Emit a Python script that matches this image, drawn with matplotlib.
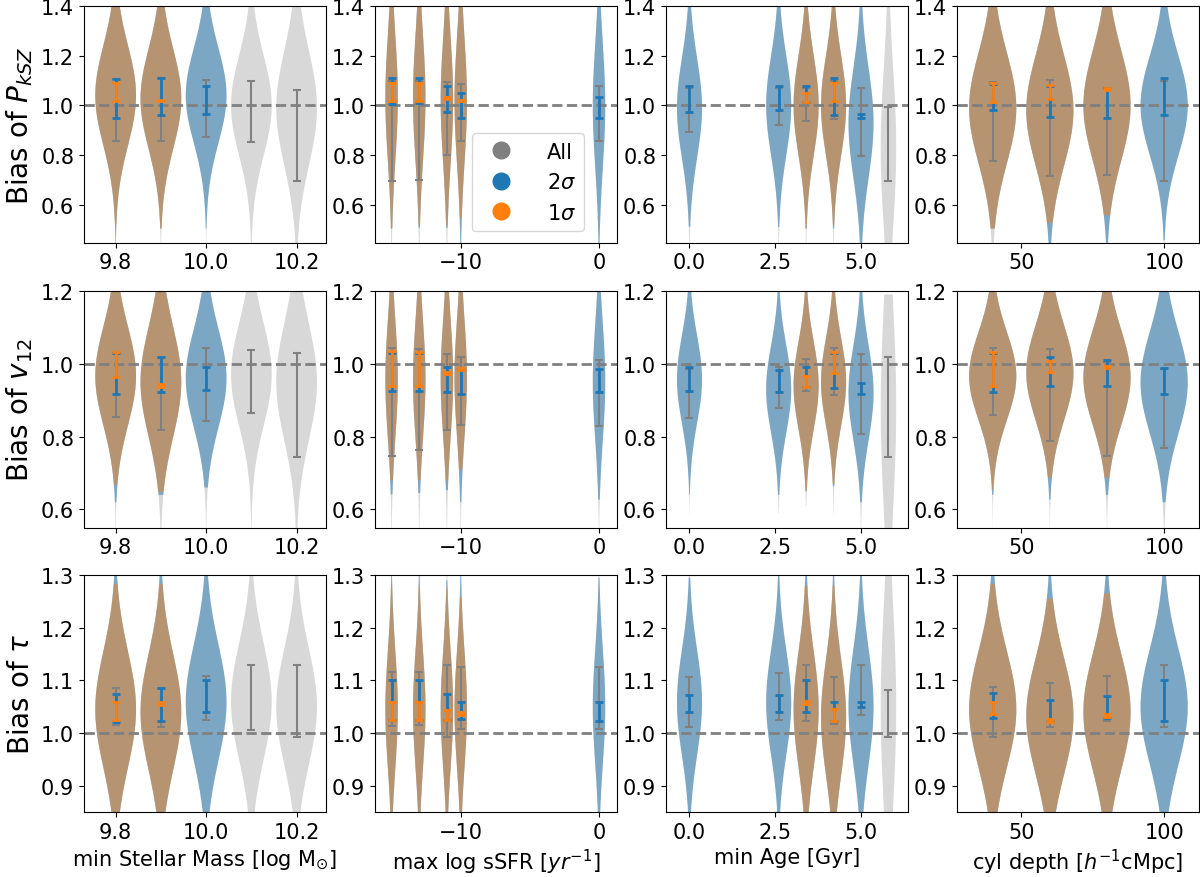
import numpy as np
import matplotlib
matplotlib.use("Agg")
import matplotlib.pyplot as plt
from matplotlib.lines import Line2D

# ---------------- data ----------------
X_MASS = [9.8, 9.9, 10.0, 10.1, 10.2]
X_SSFR = [-15, -13, -11, -10, 0]
X_AGE = [0.0, 2.6, 3.4, 4.2, 5.0, 5.8]
X_DEPTH = [40, 60, 80, 100]
COL_X = [X_MASS, X_SSFR, X_AGE, X_DEPTH]
XTICKS = [[9.8, 10.0, 10.2], [-10, 0], [0.0, 2.5, 5.0], [50, 100]]
XLABELS = ["min Stellar Mass [log M$_{\\odot}$]", "max log sSFR [$yr^{-1}$]",
           "min Age [Gyr]", "cyl depth [$h^{-1}$cMpc]"]
YLABELS = ["Bias of $P_{kSZ}$", "Bias of $v_{12}$", "Bias of $\\tau$"]
YTICKS = [[0.6, 0.8, 1.0, 1.2, 1.4], [0.6, 0.8, 1.0, 1.2], [0.9, 1.0, 1.1, 1.2, 1.3]]
LABELS = ["All", "2$\\sigma$", "1$\\sigma$"]

# which positions have the 2-sigma and 1-sigma subsets
IDX_2S = [[0, 1, 2], [0, 1, 2, 3, 4], [0, 1, 2, 3, 4], [0, 1, 2, 3]]
IDX_1S = [[0, 1], [0, 1, 2, 3], [2, 3], [0, 1, 2]]

# ---- P_kSZ ----
PKSZ_ERR_ALL = [[(0.858, 1.105), (0.858, 1.11), (0.873, 1.104), (0.853, 1.099), (0.699, 1.064)],
                [(0.699, 1.10), (0.700, 1.10), (0.803, 1.093), (0.856, 1.087), (0.858, 1.079)],
                [(0.893, 1.07), (0.923, 1.07), (0.936, 1.07), (0.947, 1.10), (0.797, 1.072), (0.699, 0.993)],
                [(0.777, 1.093), (0.717, 1.104), (0.720, 1.07), (0.699, 1.10)]]
PKSZ_ERR_2S = [[(0.95, 1.107), (0.961, 1.112), (0.965, 1.08)],
               [(1.005, 1.109), (1.008, 1.112), (0.975, 1.079), (0.95, 1.051), (0.951, 1.036)],
               [(0.975, 1.08), (0.981, 1.077), (1.012, 1.08), (0.961, 1.112), (0.95, 0.967)],
               [(0.98, 1.085), (0.955, 1.08), (0.948, 1.07), (0.963, 1.112)]]
PKSZ_ERR_1S = [[(1.019, 1.09), (1.016, 1.022)],
               [(1.017, 1.089), (1.019, 1.092), (1.027, 1.033), (1.017, 1.023)],
               [(1.012, 1.052), (1.019, 1.089)],
               [(1.015, 1.089), (1.025, 1.082), (1.064, 1.07)]]
PKSZ_MODE = [[1.04, 1.027, 1.04, 1.0, 0.99], [1.03, 1.03, 1.02, 1.02, 1.0],
             [0.99, 1.0, 1.0, 1.0, 0.93, 0.83], [0.99, 0.98, 1.0, 1.0]]
PKSZ_SPREAD = [[0.2, 0.2, 0.19, 0.2, 0.23], [0.25, 0.25, 0.25, 0.25, 0.25],
               [0.2, 0.2, 0.2, 0.2, 0.22, 0.32], [0.22, 0.22, 0.22, 0.2]]
PKSZ_END_ALL = [[(0.40, 1.6)] * 5, [(0.40, 1.6)] * 5, [(0.40, 1.6)] * 6, [(0.40, 1.6)] * 4]
PKSZ_END_2S = [[(0.40, 1.6), (0.507, 1.6), (0.507, 1.6)],
               [(0.507, 1.6), (0.51, 1.6), (0.51, 1.6), (0.40, 1.6), (0.40, 1.6)],
               [(0.514, 1.6), (0.513, 1.6), (0.507, 1.6), (0.507, 1.6), (0.40, 1.6)],
               [(0.507, 1.6), (0.40, 1.6), (0.40, 1.6), (0.46, 1.6)]]
PKSZ_END_1S = [[(0.526, 1.6), (0.507, 1.6)],
               [(0.507, 1.6), (0.52, 1.6), (0.52, 1.6), (0.547, 1.6)],
               [(0.507, 1.6), (0.52, 1.6)],
               [(0.507, 1.6), (0.53, 1.6), (0.56, 1.6)]]

# ---- v12 ----
V12_ERR_ALL = [[(0.853, 1.03), (0.818, 1.015), (0.842, 1.042), (0.864, 1.037), (0.745, 1.03)],
               [(0.746, 1.043), (0.762, 1.04), (0.818, 1.026), (0.831, 1.018), (0.829, 1.01)],
               [(0.852, 0.985), (0.879, 0.99), (0.924, 1.014), (0.913, 1.042), (0.808, 1.026), (0.745, 1.018)],
               [(0.858, 1.042), (0.788, 1.039), (0.746, 1.005), (0.768, 0.985)]]
V12_ERR_2S = [[(0.917, 1.03), (0.922, 1.018), (0.929, 0.991)],
              [(0.924, 1.03), (0.924, 1.03), (0.922, 0.991), (0.917, 0.986), (0.921, 0.985)],
              [(0.924, 0.991), (0.921, 0.983), (0.937, 0.991), (0.932, 1.03), (0.917, 0.946)],
              [(0.921, 1.03), (0.94, 1.017), (0.94, 1.009), (0.917, 0.989)]]
V12_ERR_1S = [[(0.963, 1.033), (0.937, 0.943)],
              [(0.94, 1.034), (0.94, 1.033), (0.972, 0.978), (0.983, 0.989)],
              [(0.937, 0.966), (0.974, 1.033)],
              [(0.94, 1.033), (0.976, 1.006), (0.987, 0.993)]]
V12_MODE = [[0.966, 0.95, 0.96, 0.97, 0.95], [0.957, 0.957, 0.96, 0.96, 0.95],
            [0.957, 0.93, 0.94, 0.95, 0.92, 0.88], [0.966, 0.975, 0.962, 0.948]]
V12_SPREAD = [[0.135, 0.15, 0.135, 0.14, 0.16], [0.16, 0.16, 0.16, 0.16, 0.16],
              [0.12, 0.12, 0.12, 0.12, 0.13, 0.28], [0.12, 0.13, 0.13, 0.14]]
V12_END_ALL = [[(0.50, 1.3)] * 5, [(0.50, 1.3)] * 5,
               [(0.586, 1.3), (0.59, 1.3), (0.61, 1.3), (0.585, 1.3), (0.50, 1.3), (0.50, 1.19)],
               [(0.50, 1.3)] * 4]
V12_END_2S = [[(0.62, 1.3), (0.64, 1.3), (0.66, 1.3)],
              [(0.641, 1.3), (0.645, 1.3), (0.653, 1.3), (0.62, 1.3), (0.627, 1.3)],
              [(0.64, 1.3), (0.64, 1.3), (0.65, 1.3), (0.664, 1.3), (0.62, 1.3)],
              [(0.64, 1.3), (0.627, 1.3), (0.64, 1.3), (0.62, 1.3)]]
V12_END_1S = [[(0.668, 1.3), (0.648, 1.3)],
              [(0.68, 1.3), (0.68, 1.3), (0.68, 1.3), (0.71, 1.3)],
              [(0.65, 1.3), (0.67, 1.3)],
              [(0.655, 1.3), (0.687, 1.3), (0.687, 1.3)]]

# ---- tau ----
TAU_ERR_ALL = [[(1.016, 1.086), (1.012, 1.086), (1.024, 1.109), (1.006, 1.129), (0.992, 1.13)],
               [(1.013, 1.116), (1.015, 1.116), (0.992, 1.129), (1.007, 1.126), (1.007, 1.126)],
               [(1.011, 1.107), (1.025, 1.113), (1.022, 1.129), (1.017, 1.106), (1.034, 1.13), (0.992, 1.082)],
               [(0.992, 1.088), (1.011, 1.095), (1.022, 1.109), (1.011, 1.13)]]
TAU_ERR_2S = [[(1.02, 1.075), (1.023, 1.086), (1.039, 1.10)],
              [(1.025, 1.10), (1.025, 1.10), (1.025, 1.074), (1.026, 1.058), (1.022, 1.058)],
              [(1.039, 1.072), (1.039, 1.072), (1.039, 1.101), (1.022, 1.058), (1.05, 1.058)],
              [(1.029, 1.075), (1.023, 1.063), (1.029, 1.07), (1.023, 1.101)]]
TAU_ERR_1S = [[(1.024, 1.059), (1.054, 1.059)],
              [(1.025, 1.059), (1.025, 1.058), (1.025, 1.044), (1.034, 1.039)],
              [(1.055, 1.06), (1.023, 1.045)],
              [(1.037, 1.059), (1.021, 1.026), (1.031, 1.036)]]
TAU_MODE = [[1.045, 1.04, 1.058, 1.06, 1.05], [1.045, 1.045, 1.045, 1.045, 1.05],
            [1.058, 1.058, 1.045, 1.03, 1.05, 1.05], [1.045, 1.032, 1.04, 1.05]]
TAU_SPREAD = [[0.11] * 5, [0.11] * 5, [0.1, 0.1, 0.11, 0.11, 0.11, 0.19], [0.11] * 4]
TAU_END_ALL = [[(0.75, 1.4)] * 5, [(0.75, 1.4)] * 5, [(0.75, 1.4)] * 6, [(0.75, 1.4)] * 4]
TAU_END_2S = [[(0.75, 1.4)] * 3,
              [(0.75, 1.4), (0.75, 1.4), (0.75, 1.29), (0.75, 1.4), (0.75, 1.295)],
              [(0.75, 1.295), (0.75, 1.4), (0.75, 1.4), (0.75, 1.4), (0.75, 1.3)],
              [(0.75, 1.4)] * 4]
TAU_END_1S = [[(0.75, 1.283), (0.75, 1.283)],
              [(0.75, 1.28), (0.75, 1.28), (0.75, 1.274), (0.75, 1.258)],
              [(0.75, 1.28), (0.75, 1.28)],
              [(0.75, 1.283), (0.75, 1.255), (0.75, 1.265)]]

ROWS = [
    (PKSZ_ERR_ALL, PKSZ_ERR_2S, PKSZ_ERR_1S, PKSZ_MODE, PKSZ_SPREAD, PKSZ_END_ALL, PKSZ_END_2S, PKSZ_END_1S),
    (V12_ERR_ALL, V12_ERR_2S, V12_ERR_1S, V12_MODE, V12_SPREAD, V12_END_ALL, V12_END_2S, V12_END_1S),
    (TAU_ERR_ALL, TAU_ERR_2S, TAU_ERR_1S, TAU_MODE, TAU_SPREAD, TAU_END_ALL, TAU_END_2S, TAU_END_1S),
]

# ---------------- style / layout ----------------
YLIMS = [(0.45, 1.4), (0.55, 1.2), (0.85, 1.3)]
XLIMS = [(9.73, 10.265), (-16.2, 1.3), (-0.685, 6.37), (27.5, 112.2)]
VWIDTH = [0.09, 0.9, 0.73, 16.5]
NARROW = {(2, 5): 0.62}
GROUP_COLORS = ["gray", "#1f77b4", "#ff7f0e"]
GROUP_ALPHA = [0.3, 0.5, 0.45]
ERR_LW = [1.5, 2.0, 2.0]

FIG_W, FIG_H = 1200, 878
COL_LEFT = [84, 375, 666, 957]
AX_W = 242
ROW_TOP = [6.7, 291.7, 576]
AX_H = 237

fig = plt.figure(figsize=(12, 8.78), dpi=100)


def vstats(mode, spread, lo, hi):
    c = np.linspace(lo, hi, 300)
    v = np.exp(-0.5 * ((c - mode) / spread) ** 2)
    return dict(coords=c, vals=v, mean=mode, median=mode, min=lo, max=hi)


axes = []
for r in range(3):
    err_all, err_2s, err_1s, modes, spreads, end_all, end_2s, end_1s = ROWS[r]
    for ci in range(4):
        left = COL_LEFT[ci] / FIG_W
        bottom = 1 - (ROW_TOP[r] + AX_H) / FIG_H
        ax = fig.add_axes([left, bottom, AX_W / FIG_W, AX_H / FIG_H])
        axes.append(ax)
        xs = COL_X[ci]
        idx_groups = [list(range(len(xs))), IDX_2S[ci], IDX_1S[ci]]
        ends = [end_all[ci], end_2s[ci], end_1s[ci]]
        errs = [err_all[ci], err_2s[ci], err_1s[ci]]
        # violins
        for g in range(3):
            idx = idx_groups[g]
            stats = [vstats(modes[ci][i], spreads[ci][i], ends[g][k][0], ends[g][k][1])
                     for k, i in enumerate(idx)]
            pos = [xs[i] for i in idx]
            wid = [VWIDTH[ci] * NARROW.get((ci, i), 1.0) for i in idx]
            parts = ax.violin(stats, positions=pos, widths=wid, showmeans=False,
                              showextrema=False, showmedians=False)
            for b in parts["bodies"]:
                b.set_facecolor(GROUP_COLORS[g])
                b.set_edgecolor("none")
                b.set_alpha(GROUP_ALPHA[g])
                b.set_zorder(1 + 0.1 * g)
        ax.axhline(1.0, color="gray", ls="--", lw=2, zorder=2)
        # error bars
        for g in range(3):
            idx = idx_groups[g]
            lo = np.array([errs[g][k][0] for k in range(len(idx))])
            hi = np.array([errs[g][k][1] for k in range(len(idx))])
            pos = [xs[i] for i in idx]
            ax.errorbar(pos, (lo + hi) / 2, yerr=(hi - lo) / 2, fmt="none",
                        ecolor=GROUP_COLORS[g], elinewidth=ERR_LW[g], capsize=3,
                        capthick=ERR_LW[g], zorder=3 + g)
        ax.set_xlim(*XLIMS[ci])
        ax.set_ylim(*YLIMS[r])
        ax.set_xticks(XTICKS[ci])
        ax.set_yticks(YTICKS[r])
        ax.tick_params(labelsize=15)
        if ci == 0:
            ax.set_ylabel(YLABELS[r], fontsize=20)
        if r == 2:
            ax.set_xlabel(XLABELS[ci], fontsize=15)

handles = [Line2D([], [], marker="o", ls="none", color=c, markersize=12) for c in GROUP_COLORS]
axes[1].legend(handles, LABELS, loc="lower left", bbox_to_anchor=(0.40, 0.05),
               borderaxespad=0, fontsize=15, handletextpad=1.2)

fig.savefig("out.png", dpi=100)
